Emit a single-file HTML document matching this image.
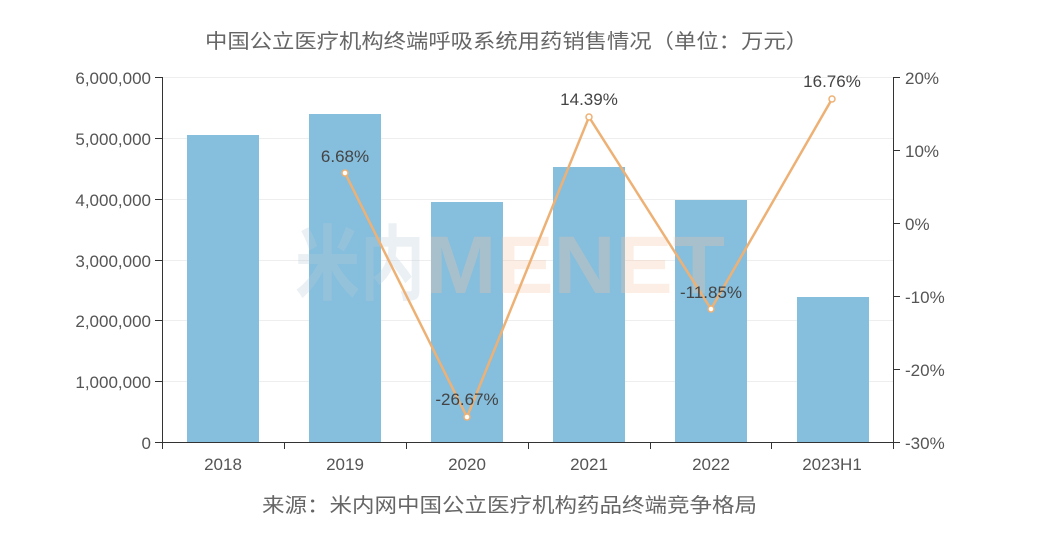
<!DOCTYPE html>
<html><head><meta charset="utf-8"><style>
body{margin:0;background:#fff;}
svg{display:block;font-family:"Liberation Sans","Noto Sans CJK SC",sans-serif;}
</style></head><body>
<svg width="1052" height="551" viewBox="0 0 1052 551">
<text x="205" y="48" font-size="20" fill="#666" textLength="603" lengthAdjust="spacingAndGlyphs">中国公立医疗机构终端呼吸系统用药销售情况（单位：万元）</text>
<g stroke="#eee" stroke-width="1">
<line x1="162" y1="77.5" x2="893" y2="77.5"/><line x1="162" y1="138.5" x2="893" y2="138.5"/>
<line x1="162" y1="199.5" x2="893" y2="199.5"/><line x1="162" y1="260.5" x2="893" y2="260.5"/>
<line x1="162" y1="320.5" x2="893" y2="320.5"/><line x1="162" y1="381.5" x2="893" y2="381.5"/>
</g>
<g fill="#86bedd">
<rect x="187" y="135" width="72" height="307"/>
<rect x="309" y="114" width="72" height="328"/>
<rect x="431" y="202" width="72" height="240"/>
<rect x="553" y="167" width="72" height="275"/>
<rect x="675" y="200" width="72" height="242"/>
<rect x="797" y="297" width="72" height="145"/>
</g>
<text x="295" y="293" font-size="82" font-weight="bold" fill="#b8ccd6" fill-opacity="0.3" textLength="130" lengthAdjust="spacingAndGlyphs">米内</text>
<text x="425" y="293" font-size="82" font-weight="bold" fill="#f5c8a5" fill-opacity="0.3" textLength="300" lengthAdjust="spacingAndGlyphs">MENET</text>
<g stroke="#333" stroke-width="1" fill="none">
<line x1="162.5" y1="77" x2="162.5" y2="442"/>
<line x1="893.5" y1="77" x2="893.5" y2="442"/>
<line x1="162" y1="442.5" x2="893" y2="442.5"/>
<path d="M155 77.5H162M155 138.5H162M155 199.5H162M155 260.5H162M155 320.5H162M155 381.5H162M155 442.5H162"/>
<path d="M893 77.5H900M893 150.5H900M893 223.5H900M893 296.5H900M893 369.5H900M893 442.5H900"/>
<path d="M162.5 442V449M284.5 442V449M406.5 442V449M528.5 442V449M650.5 442V449M771.5 442V449M893.5 442V449"/>
</g>
<g font-size="17" fill="#555" text-anchor="end">
<text x="151" y="84">6,000,000</text><text x="151" y="145">5,000,000</text>
<text x="151" y="206">4,000,000</text><text x="151" y="267">3,000,000</text>
<text x="151" y="327">2,000,000</text><text x="151" y="388">1,000,000</text>
<text x="151" y="449">0</text>
</g>
<g font-size="17" fill="#555">
<text x="905" y="84">20%</text><text x="905" y="157">10%</text><text x="905" y="230">0%</text>
<text x="905" y="303">-10%</text><text x="905" y="376">-20%</text><text x="905" y="449">-30%</text>
</g>
<g font-size="17" fill="#555" text-anchor="middle">
<text x="223" y="470">2018</text><text x="345" y="470">2019</text><text x="467" y="470">2020</text>
<text x="589" y="470">2021</text><text x="711" y="470">2022</text><text x="832" y="470">2023H1</text>
</g>
<polyline points="345,173 467,417 589,117 711,309 832,99" fill="none" stroke="#eeb175" stroke-width="2.5"/>
<g fill="#fff" stroke="#eeb175" stroke-width="1.5">
<circle cx="345" cy="173" r="3"/><circle cx="467" cy="417" r="3"/><circle cx="589" cy="117" r="3"/>
<circle cx="711" cy="309" r="3"/><circle cx="832" cy="99" r="3"/>
</g>
<g font-size="17" fill="#444" text-anchor="middle">
<text x="345" y="162">6.68%</text><text x="467" y="405">-26.67%</text><text x="589" y="105">14.39%</text>
<text x="711" y="298">-11.85%</text><text x="832" y="87">16.76%</text>
</g>
<text x="262" y="512" font-size="20" fill="#666" textLength="495" lengthAdjust="spacingAndGlyphs">来源：米内网中国公立医疗机构药品终端竞争格局</text>
</svg>
</body></html>
